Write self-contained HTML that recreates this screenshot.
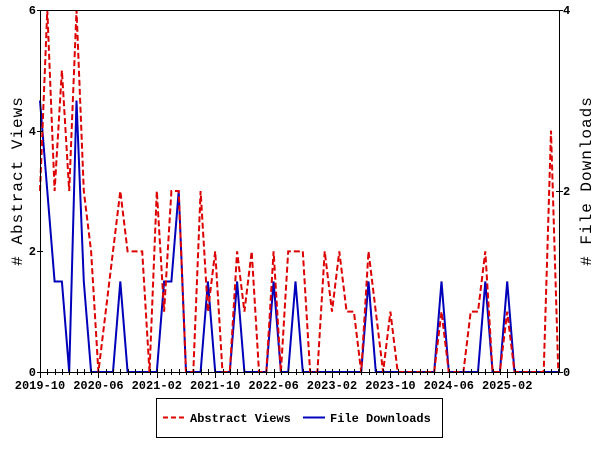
<!DOCTYPE html>
<html><head><meta charset="utf-8"><style>
body{margin:0;background:#fff;}
svg{display:block;}
text{font-family:"Liberation Mono","DejaVu Sans Mono",monospace;font-size:12px;font-weight:bold;fill:#000;}
</style></head><body>
<svg id="s" width="600" height="450" viewBox="0 0 600 450" xmlns="http://www.w3.org/2000/svg">
<rect width="600" height="450" fill="#fff"/>
<g id="lines"></g>
<line x1="40" y1="10.5" x2="559" y2="10.5" stroke="#000" stroke-width="1"/>
<line x1="40.5" y1="10" x2="40.5" y2="372" stroke="#000" stroke-width="1"/>
<line x1="559.5" y1="10" x2="559.5" y2="372" stroke="#000" stroke-width="1"/>
<line x1="40" y1="372.5" x2="559" y2="372.5" stroke="#000" stroke-width="1"/>
<g id="ticks" stroke="#000" stroke-width="1"></g>
<text x="36" y="14" text-anchor="end">6</text>
<text x="36" y="135" text-anchor="end">4</text>
<text x="36" y="255" text-anchor="end">2</text>
<text x="36" y="376" text-anchor="end">0</text>
<text x="563" y="14">4</text>
<text x="563" y="195">2</text>
<text x="563" y="376">0</text>
<text x="40" y="389" text-anchor="middle">2019-10</text>
<text x="98.4" y="389" text-anchor="middle">2020-06</text>
<text x="156.8" y="389" text-anchor="middle">2021-02</text>
<text x="215.2" y="389" text-anchor="middle">2021-10</text>
<text x="273.6" y="389" text-anchor="middle">2022-06</text>
<text x="332" y="389" text-anchor="middle">2023-02</text>
<text x="390.4" y="389" text-anchor="middle">2023-10</text>
<text x="448.8" y="389" text-anchor="middle">2024-06</text>
<text x="507.2" y="389" text-anchor="middle">2025-02</text>
<text transform="translate(22,181) rotate(-90)" text-anchor="middle" style="font-size:16px;font-weight:normal;letter-spacing:1px">#  Abstract Views</text>
<text transform="translate(591,181) rotate(-90)" text-anchor="middle" style="font-size:16px;font-weight:normal;letter-spacing:1px"># File Downloads</text>
<rect x="156.5" y="398.5" width="286" height="39" fill="none" stroke="#000"/>
<line x1="163" y1="417.5" x2="184" y2="417.5" stroke="#d00" stroke-width="2" stroke-dasharray="5,3"/>
<text x="190" y="422">Abstract Views</text>
<line x1="303" y1="417.5" x2="325" y2="417.5" stroke="#00b" stroke-width="2"/>
<text x="330" y="422">File Downloads</text>
</svg>
<script>
var V=[3,6,3,5,3,6,3,2,0,1,2,3,2,2,2,0,3,1,3,3,0,0,3,1,2,0,0,2,1,2,0,0,2,0,2,2,2,0,0,2,1,2,1,1,0,2,1,0,1,0,0,0,0,0,0,1,0,0,0,1,1,2,0,0,1,0,0,0,0,0,4,0];
var D=[3,2,1,1,0,3,1,0,0,0,0,1,0,0,0,0,0,1,1,2,0,0,0,1,0,0,0,1,0,0,0,0,1,0,0,1,0,0,0,0,0,0,0,0,0,1,0,0,0,0,0,0,0,0,0,1,0,0,0,0,0,1,0,0,1,0,0,0,0,0,0,0];
function x(i){return 40+7.3*i;}
var ns="http://www.w3.org/2000/svg",g=document.getElementById('lines');
function pl(pts,c,d){var p=document.createElementNS(ns,'polyline');p.setAttribute('points',pts.join(' '));p.setAttribute('fill','none');p.setAttribute('stroke',c);p.setAttribute('stroke-width','2');if(d)p.setAttribute('stroke-dasharray',d);g.appendChild(p);}
pl(D.map(function(v,i){return x(i)+','+(372-90.5*v);}),'#0000bb');
pl(V.map(function(v,i){return x(i)+','+(372-60.33*v);}),'#dd0000','6,3');
var t=document.getElementById('ticks'),h='';
for(var i=0;i<72;i++){var xx=Math.round(x(i))+0.5;h+='<line x1="'+xx+'" y1="369" x2="'+xx+'" y2="'+(i%8==0?378:375)+'"/>';}
[0,2,4,6].forEach(function(v){var y=Math.round(372-60.33*v)+0.5;h+='<line x1="37" y1="'+y+'" x2="43" y2="'+y+'"/>';});
[0,2,4].forEach(function(v){var y=Math.round(372-90.5*v)+0.5;h+='<line x1="556" y1="'+y+'" x2="563" y2="'+y+'"/>';});
t.innerHTML=h;
</script>
</body></html>
